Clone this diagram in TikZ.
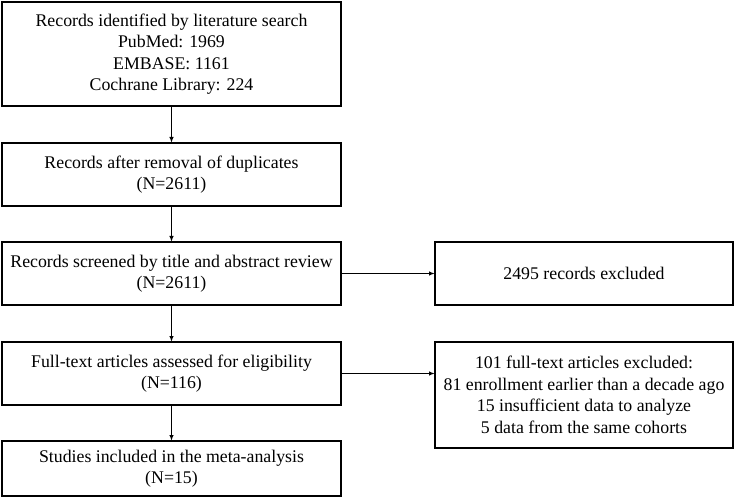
\documentclass[tikz,border=0pt]{standalone}
\usepackage{fontspec}
\setmainfont{Liberation Serif}
\usetikzlibrary{positioning,arrows.meta}

\begin{document}
\begin{tikzpicture}[x=1pt,y=1pt,node distance=37pt and 94pt,
  box/.style={draw,line width=1.3pt,align=center,minimum width=339pt,inner sep=2pt,outer sep=0pt,
    font=\fontsize{17.8}{21.5}\selectfont},
  flow/.style={-{Latex[length=6pt,width=4.5pt]},line width=1.2pt}]
\useasboundingbox(0,0)rectangle(734,-497);
\node[box,minimum height=104pt,anchor=north west](search)at(2,-2){Records identified by literature search\\PubMed: 1969\\EMBASE: 1161\\Cochrane Library: 224};
\node[box,minimum height=63pt,below=of search](dedup){Records after removal of duplicates\\(N=2611)};
\node[box,minimum height=63pt,below=36pt of dedup](screen){Records screened by title and abstract review\\(N=2611)};
\node[box,minimum height=63pt,below=of screen](full){Full-text articles assessed for eligibility\\(N=116)};
\node[box,minimum height=55pt,below=36pt of full](incl){Studies included in the meta-analysis\\(N=15)};
\node[box,minimum width=298pt,minimum height=63pt,right=of screen](excl){2495 records excluded};
\node[box,minimum width=298pt,minimum height=106pt,anchor=north west](ftexcl)at(excl.south west|-full.north){101 full-text articles excluded:\\81 enrollment earlier than a decade ago\\15 insufficient data to analyze\\5 data from the same cohorts};
\draw[flow](search)--(dedup);
\draw[flow](dedup)--(screen);
\draw[flow](screen)--(full);
\draw[flow](full)--(incl);
\draw[flow](screen)--(excl);
\draw[flow](full.east)--(full.east-|ftexcl.west);
\end{tikzpicture}
\end{document}
